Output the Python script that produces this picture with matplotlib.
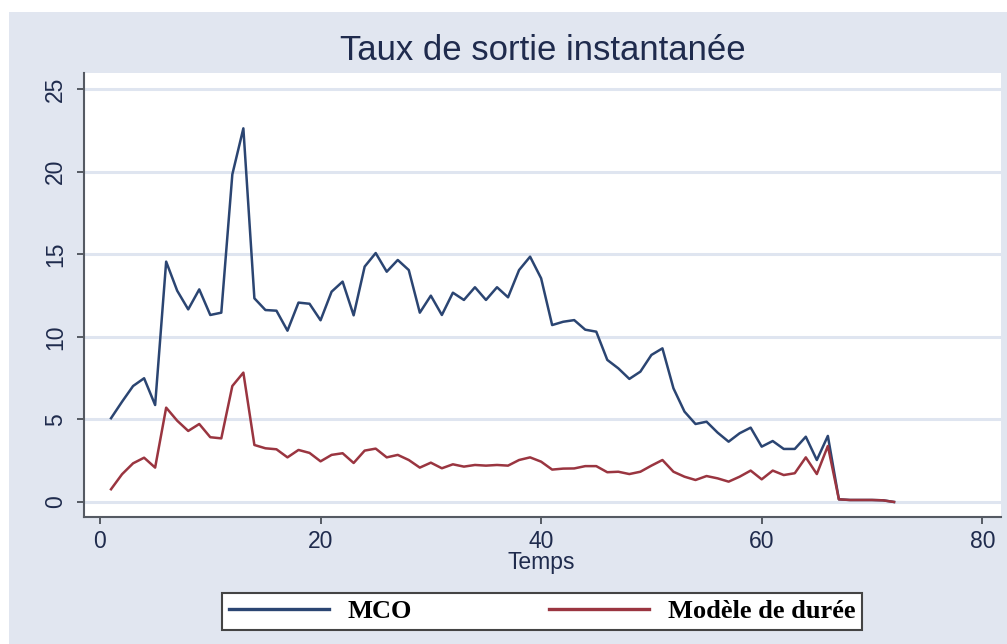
import matplotlib
matplotlib.use("Agg")
import matplotlib.pyplot as plt
from matplotlib.patches import Rectangle

# ---- data ----
temps = list(range(1, 73))
mco = [5.07, 6.07, 7.02, 7.49, 5.87, 14.55, 12.79, 11.66, 12.87, 11.32,
       11.46, 19.83, 22.62, 12.33, 11.62, 11.58, 10.37, 12.07, 12.0, 11.0,
       12.73, 13.34, 11.3, 14.25, 15.07, 13.94, 14.65, 14.04, 11.46, 12.49,
       11.32, 12.67, 12.23, 13.0, 12.23, 13.0, 12.39, 14.04, 14.85, 13.54,
       10.71, 10.91, 11.01, 10.43, 10.31, 8.60, 8.09, 7.45, 7.89, 8.90,
       9.30, 6.88, 5.47, 4.72, 4.86, 4.20, 3.65, 4.16, 4.50, 3.35,
       3.69, 3.21, 3.21, 3.95, 2.54, 4.0, 0.16, 0.12, 0.12, 0.12,
       0.1, 0.0]
duree = [0.77, 1.68, 2.34, 2.68, 2.08, 5.71, 4.92, 4.30, 4.72, 3.92,
         3.85, 7.02, 7.83, 3.45, 3.25, 3.19, 2.70, 3.15, 2.97, 2.46,
         2.85, 2.95, 2.36, 3.11, 3.23, 2.70, 2.85, 2.54, 2.08, 2.38,
         2.04, 2.28, 2.14, 2.24, 2.20, 2.24, 2.20, 2.54, 2.70, 2.44,
         1.96, 2.02, 2.03, 2.17, 2.17, 1.80, 1.83, 1.69, 1.83, 2.20,
         2.54, 1.83, 1.53, 1.33, 1.57, 1.43, 1.23, 1.53, 1.90, 1.37,
         1.90, 1.63, 1.74, 2.70, 1.69, 3.39, 0.16, 0.12, 0.12, 0.12,
         0.1, 0.0]
yticks = [0, 5, 10, 15, 20, 25]
xticks = [0, 20, 40, 60, 80]
title = "Taux de sortie instantanée"
xlabel = "Temps"
labels = ["MCO", "Modèle de durée"]

W, H = 1007, 644
BG = "#e1e6f0"
TXT = "#1f2b4d"
AX = "#555a63"
BLUE = "#2b4572"
RED = "#9a3540"

plt.rcParams['font.family'] = ['Liberation Sans', 'DejaVu Sans']

fig = plt.figure(figsize=(W / 100, H / 100), dpi=100, facecolor="white")
fig.patches.append(Rectangle((9 / W, 0), 1 - 9 / W, 1 - 12 / H,
                             transform=fig.transFigure, facecolor=BG,
                             edgecolor="none", zorder=-10))

left, right, top, bottom = 84, 1001, 73, 517
ax = fig.add_axes([left / W, 1 - bottom / H, (right - left) / W, (bottom - top) / H])
ax.set_facecolor("white")

ax.plot(temps, mco, color=BLUE, lw=1.8, label=labels[0], zorder=3)
ax.plot(temps, duree, color=RED, lw=1.8, label=labels[1], zorder=4)

ax.set_xlim(-1.45, 81.7)
ax.set_ylim(-0.91, 25.97)
ax.set_xticks(xticks)
ax.set_yticks(yticks)
ax.yaxis.grid(True, color="#dfe5f0", lw=2.2, zorder=0)
ax.set_axisbelow(True)

for s in ["top", "right"]:
    ax.spines[s].set_visible(False)
for s in ["left", "bottom"]:
    ax.spines[s].set_color(AX)
    ax.spines[s].set_linewidth(1.5)

ax.tick_params(axis="both", direction="out", length=5, width=1.4, color=AX,
               labelcolor=TXT, labelsize=16.5)
ax.tick_params(axis="y", pad=7)
ax.tick_params(axis="x", pad=4)
for lab in ax.get_yticklabels():
    lab.set_rotation(90)
    lab.set_va("center")

ax.set_title(title, fontsize=25, color=TXT, y=(bottom - 60) / (bottom - top), pad=0)
fig.text(541 / W, 1 - 569 / H, xlabel, ha="center", va="baseline",
         fontsize=16.5, color=TXT)

leg = fig.legend(loc="center", bbox_to_anchor=(222 / W, 1 - 633 / H, (862 - 222) / W, 43 / H),
                 mode="expand", ncol=2, frameon=True, fancybox=False, framealpha=1,
                 handlelength=3.8, handletextpad=0.7, borderpad=0.25,
                 borderaxespad=0, columnspacing=4.0,
                 prop={"family": ["Liberation Serif", "DejaVu Serif"], "weight": "bold", "size": 19})
leg.get_frame().set_edgecolor("#444444")
leg.get_frame().set_linewidth(1.5)
leg.get_frame().set_facecolor("white")
for ln in leg.get_lines():
    ln.set_linewidth(2.4)

fig.savefig("out.png", dpi=100, facecolor=fig.get_facecolor())
